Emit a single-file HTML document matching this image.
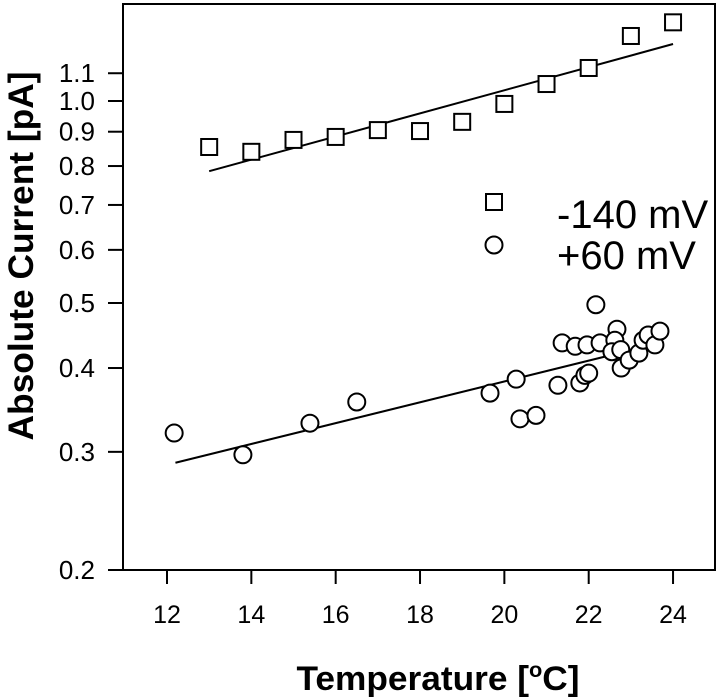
<!DOCTYPE html>
<html><head><meta charset="utf-8"><style>
html,body{margin:0;padding:0;background:#fff;}
svg{display:block;font-family:"Liberation Sans",Arial,sans-serif;}
</style></head><body>
<svg id="chart" width="720" height="700" viewBox="0 0 720 700" xmlns="http://www.w3.org/2000/svg">
<rect x="123" y="4" width="592" height="566" fill="none" stroke="#000" stroke-width="2"/>
<line x1="108" y1="570" x2="715" y2="570" stroke="#000" stroke-width="2"/>
<g id="xticks"></g>
<g id="yticks"></g>
<g id="series"></g>
<text x="33" y="256" transform="rotate(-90 33 256)" text-anchor="middle" font-size="35" font-weight="bold" textLength="369" lengthAdjust="spacingAndGlyphs">Absolute Current [pA]</text>
<text x="438" y="690" text-anchor="middle" font-size="34" font-weight="bold" textLength="283" lengthAdjust="spacingAndGlyphs">Temperature [<tspan font-size="21" dy="-13">o</tspan><tspan dy="13">C]</tspan></text>
<g>
<rect x="486" y="194" width="16" height="16" fill="#fff" stroke="#000" stroke-width="2"/>
<text x="557" y="228" font-size="40">-140 mV</text>
<circle cx="494" cy="245" r="8.5" fill="#fff" stroke="#000" stroke-width="2"/>
<text x="557" y="269" font-size="40">+60 mV</text>
</g>
</svg>
<script>
const xTicks = [12, 14, 16, 18, 20, 22, 24];
const yTicks = [0.2, 0.3, 0.4, 0.5, 0.6, 0.7, 0.8, 0.9, 1.0, 1.1];
const yTickLabels = ["0.2","0.3","0.4","0.5","0.6","0.7","0.8","0.9","1.0","1.1"];
const sqTemp = [13, 14, 15, 16, 17, 18, 19, 20, 21, 22, 23, 24];
const sqCurrent = [0.854, 0.840, 0.875, 0.884, 0.905, 0.902, 0.931, 0.990, 1.06, 1.12, 1.25, 1.31];
const circTemp = [12.17, 13.8, 15.39, 16.5, 19.66, 20.28, 20.37, 20.75, 21.27, 22.17, 21.37, 21.68, 21.96, 22.27, 22.67, 22.62, 22.55, 22.76, 22.77, 22.96, 23.19, 23.29, 23.41, 23.57, 23.69, 21.79, 21.91, 22.0];
const circCurrent = [0.32, 0.297, 0.331, 0.356, 0.367, 0.385, 0.336, 0.340, 0.377, 0.497, 0.436, 0.431, 0.433, 0.436, 0.457, 0.44, 0.423, 0.426, 0.400, 0.411, 0.421, 0.44, 0.448, 0.433, 0.454, 0.380, 0.39, 0.393];
const sqFitTemp = [13, 24];
const sqFitCurrent = [0.786, 1.216];
const circFitTemp = [12.2, 23.7];
const circFitCurrent = [0.289, 0.436];

const NS = "http://www.w3.org/2000/svg";
function xs(t){ return 167 + (t - 12) * 42.17; }
function ys(v){ return 570 - Math.log(v / 0.2) * 291.4; }
function mk(tag, attrs, parent){ const e = document.createElementNS(NS, tag); for (const k in attrs) e.setAttribute(k, attrs[k]); parent.appendChild(e); return e; }

const gx = document.getElementById('xticks');
xTicks.forEach(t => {
  const l = mk('line', {x1: xs(t), x2: xs(t), y1: 570, y2: 584, stroke: '#000', 'stroke-width': 2}, gx);
  
  
  const tx = mk('text', {x: xs(t), y: 623, 'text-anchor': 'middle', 'font-size': 25}, gx);
  tx.textContent = t;
  
  
});
const gy = document.getElementById('yticks');
yTicks.forEach((v, i) => {
  const l = mk('line', {x1: 108, x2: 123, y1: ys(v), y2: ys(v), stroke: '#000', 'stroke-width': 2}, gy);
  
  
  const tx = mk('text', {x: 95, y: ys(v) + 9, 'text-anchor': 'end', 'font-size': 26}, gy);
  tx.textContent = yTickLabels[i];
  
  
});
const gs = document.getElementById('series');
const f1 = mk('line', {x1: xs(sqFitTemp[0]), y1: ys(sqFitCurrent[0]), x2: xs(sqFitTemp[1]), y2: ys(sqFitCurrent[1]), stroke: '#000', 'stroke-width': 2}, gs);


const f2 = mk('line', {x1: xs(circFitTemp[0]), y1: ys(circFitCurrent[0]), x2: xs(circFitTemp[1]), y2: ys(circFitCurrent[1]), stroke: '#000', 'stroke-width': 2}, gs);


sqTemp.forEach((t, i) => {
  const r = mk('rect', {x: xs(t) - 8, y: ys(sqCurrent[i]) - 8, width: 16, height: 16, fill: '#fff', stroke: '#000', 'stroke-width': 2}, gs);
  
  
});
circTemp.forEach((t, i) => {
  const c = mk('circle', {cx: xs(t), cy: ys(circCurrent[i]), r: 8.5, fill: '#fff', stroke: '#000', 'stroke-width': 2}, gs);
  
  
});
</script>
</body></html>
